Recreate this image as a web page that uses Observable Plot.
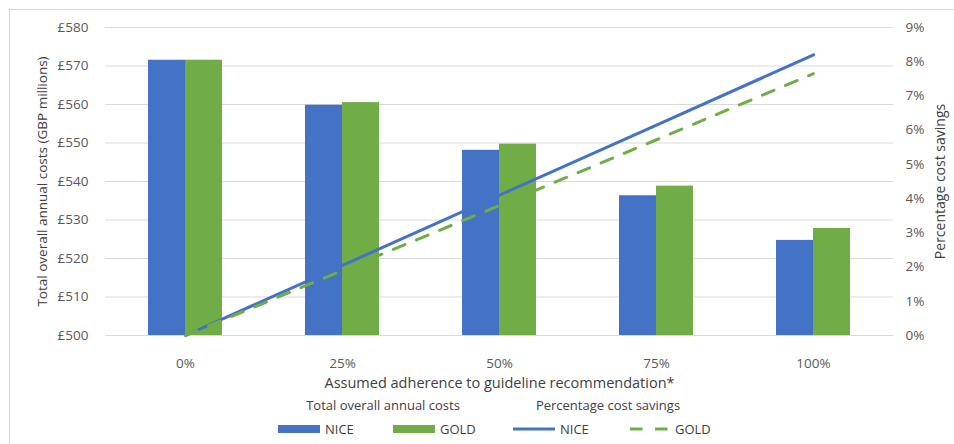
<!DOCTYPE html>
<html>
<head>
<meta charset="utf-8">
<script src="https://cdn.jsdelivr.net/npm/d3@7"></script>
<script src="https://cdn.jsdelivr.net/npm/@observablehq/plot@0.6"></script>
<style>
  html, body { margin: 0; padding: 0; background: #fff; }
  body { width: 954px; height: 444px; position: relative; overflow: hidden; font-family: "Open Sans", sans-serif; }
  #frame { position: absolute; left: 9px; top: 9px; width: 980px; height: 500px; border: 1px solid #d9d9d9; box-sizing: border-box; }
  #chart { position: absolute; left: 0; top: 0; }
  #legend { position: absolute; left: 0; top: 392px; width: 954px; height: 52px; color: #404040; font-size: 13px; }
  .hdr { position: absolute; top: 4px; transform: translateX(-50%); white-space: nowrap; }
  .item { position: absolute; top: 28px; display: flex; align-items: center; white-space: nowrap; }
  .sw { width: 42px; margin-right: 5px; }
</style>
</head>
<body>
<div id="frame"></div>
<div id="chart"></div>
<div id="legend"></div>
<script>
const categories = ["0%", "25%", "50%", "75%", "100%"];
const series = ["NICE", "GOLD"];
const niceCost = [571.5, 559.8, 548.1, 536.3, 524.7];
const goldCost = [571.5, 560.5, 549.7, 538.8, 527.8];
const niceSavings = [0, 2.05, 4.1, 6.15, 8.2];
const goldSavings = [0, 1.9, 3.8, 5.72, 7.65];
const costTicks = [500, 510, 520, 530, 540, 550, 560, 570, 580];
const pctTicks = [0, 1, 2, 3, 4, 5, 6, 7, 8, 9];

const colors = { NICE: "#4472C4", GOLD: "#70AD47" };
const costMin = 500, costMax = 580, pctMax = 9;
const pctToCost = p => costMin + p * (costMax - costMin) / pctMax;
const costToPct = v => Math.round((v - costMin) * pctMax / (costMax - costMin));

const bars = [];
categories.forEach((c, i) => {
  bars.push({ cat: c, series: "NICE", value: niceCost[i] });
  bars.push({ cat: c, series: "GOLD", value: goldCost[i] });
});
const lines = [];
categories.forEach((c, i) => lines.push({ cat: c, series: "NICE", pct: niceSavings[i] }));
categories.forEach((c, i) => lines.push({ cat: c, series: "GOLD", pct: goldSavings[i] }));

const plot = Plot.plot({
  width: 954,
  height: 392,
  marginLeft: 105,
  marginRight: 61,
  marginTop: 27,
  marginBottom: 57,
  style: { fontFamily: "Open Sans, sans-serif", fontSize: "13.5px", color: "#595959", background: "transparent" },
  x: { type: "band", domain: categories, paddingInner: 0.53, paddingOuter: 0.265, label: null },
  y: { domain: [costMin, costMax], label: null },
  marks: [
    Plot.gridY(costTicks, { stroke: "#d9d9d9", strokeOpacity: 1, strokeWidth: 1 }),
    Plot.axisY(costTicks, { anchor: "left", tickSize: 0, tickPadding: 17, tickFormat: d => "£" + d, label: null }),
    Plot.axisY(pctTicks.map(pctToCost), { anchor: "right", tickSize: 0, tickPadding: 12, tickFormat: v => costToPct(v) + "%", label: null }),
    Plot.axisX(categories, { anchor: "bottom", tickSize: 0, tickPadding: 23, label: null }),
    Plot.barY(bars.filter(d => d.series === "NICE"), { x: "cat", y1: costMin, y2: "value", fill: colors.NICE, insetRight: 37 }),
    Plot.barY(bars.filter(d => d.series === "GOLD"), { x: "cat", y1: costMin, y2: "value", fill: colors.GOLD, insetLeft: 37 }),
    Plot.lineY(lines.filter(d => d.series === "NICE"), { x: "cat", y: d => pctToCost(d.pct), stroke: colors.NICE, strokeWidth: 3 }),
    Plot.lineY(lines.filter(d => d.series === "GOLD"), { x: "cat", y: d => pctToCost(d.pct), stroke: colors.GOLD, strokeWidth: 3, strokeDasharray: "12.5,12.5" }),
    Plot.text(["Total overall annual costs (GBP millions)"], { frameAnchor: "left", rotate: -90, dx: -63, textAnchor: "middle", lineAnchor: "middle", fontSize: 13.5, fill: "#404040" }),
    Plot.text(["Percentage cost savings"], { frameAnchor: "right", rotate: -90, dx: 47, textAnchor: "middle", lineAnchor: "middle", fontSize: 14, fill: "#404040" }),
    Plot.text(["Assumed adherence to guideline recommendation*"], { frameAnchor: "bottom", dy: 48, textAnchor: "middle", lineAnchor: "middle", fontSize: 14.5, fill: "#404040" })
  ]
});
document.getElementById("chart").appendChild(plot);

// Legend
const legend = document.getElementById("legend");
const headers = [["Total overall annual costs", 383], ["Percentage cost savings", 608]];
headers.forEach(([t, x]) => {
  const s = document.createElement("span");
  s.className = "hdr"; s.textContent = t; s.style.left = x + "px";
  legend.appendChild(s);
});
const items = [
  { label: "NICE", kind: "bar", color: colors.NICE, x: 278 },
  { label: "GOLD", kind: "bar", color: colors.GOLD, x: 393 },
  { label: "NICE", kind: "line", color: colors.NICE, x: 513 },
  { label: "GOLD", kind: "dash", color: colors.GOLD, x: 628 }
];
items.forEach(it => {
  const d = document.createElement("div");
  d.className = "item"; d.style.left = it.x + "px";
  const sw = document.createElementNS("http://www.w3.org/2000/svg", "svg");
  sw.setAttribute("width", 42); sw.setAttribute("height", 10); sw.setAttribute("class", "sw");
  if (it.kind === "bar") {
    sw.innerHTML = `<rect x="0" y="1" width="42" height="8" fill="${it.color}"/>`;
  } else {
    sw.innerHTML = `<line x1="0" y1="5" x2="42" y2="5" stroke="${it.color}" stroke-width="3" ${it.kind === "dash" ? 'stroke-dasharray="12.5,12.5" stroke-dashoffset="-2"' : ""}/>`;
  }
  d.appendChild(sw);
  const t = document.createElement("span"); t.textContent = it.label;
  d.appendChild(t);
  legend.appendChild(d);
});
</script>
</body>
</html>
